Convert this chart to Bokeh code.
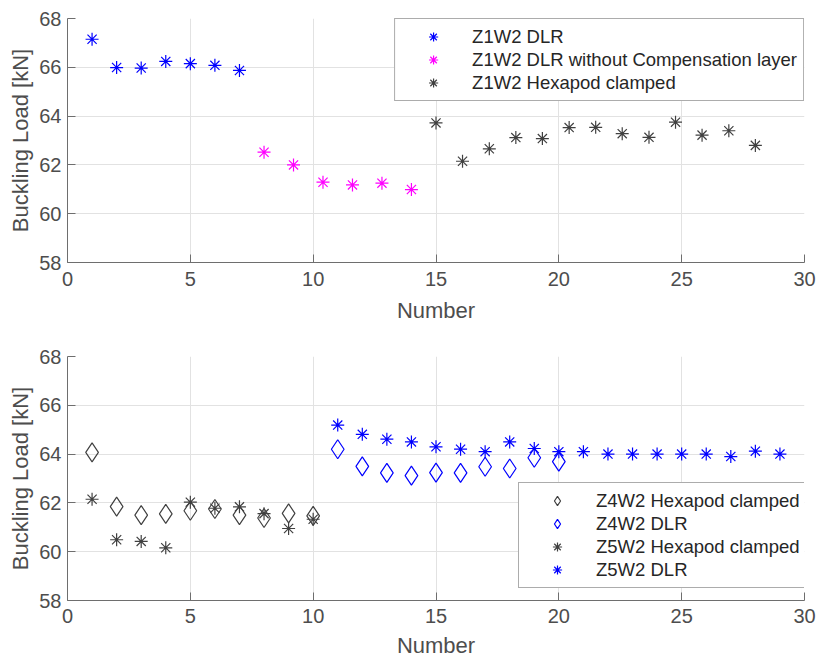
from bokeh.plotting import figure
from bokeh.layouts import column
from bokeh.models import FixedTicker, Legend, LegendItem
from bokeh.embed import file_html
from bokeh.resources import INLINE

# ---------------- data ----------------
x_ticks = [0, 5, 10, 15, 20, 25, 30]
y_ticks = [58, 60, 62, 64, 66, 68]

# top panel
z1_dlr_x = [1, 2, 3, 4, 5, 6, 7]
z1_dlr_y = [67.15, 65.99, 65.97, 66.24, 66.15, 66.08, 65.87]
z1_nocomp_x = [8, 9.2, 10.4, 11.6, 12.8, 14]
z1_nocomp_y = [62.52, 62.0, 61.29, 61.18, 61.25, 60.99]
z1_hexa_x = [15, 16.08, 17.17, 18.25, 19.33, 20.42, 21.5, 22.58, 23.67, 24.75, 25.83, 26.92, 28]
z1_hexa_y = [63.72, 62.15, 62.66, 63.12, 63.08, 63.53, 63.54, 63.28, 63.13, 63.75, 63.22, 63.4, 62.8]

# bottom panel
z4_hexa_x = [1, 2, 3, 4, 5, 6, 7, 8, 9, 10]
z4_hexa_y = [64.07, 61.85, 61.5, 61.55, 61.68, 61.75, 61.5, 61.38, 61.57, 61.47]
z4_dlr_x = [11, 12, 13, 14, 15, 16, 17, 18, 19, 20]
z4_dlr_y = [64.2, 63.5, 63.23, 63.12, 63.24, 63.23, 63.48, 63.41, 63.85, 63.69]
z5_hexa_x = [1, 2, 3, 4, 5, 6, 7, 8, 9, 10]
z5_hexa_y = [62.15, 60.49, 60.42, 60.16, 62.03, 61.78, 61.84, 61.56, 60.95, 61.33]
z5_dlr_x = [11, 12, 13, 14, 15, 16, 17, 18, 19, 20, 21, 22, 23, 24, 25, 26, 27, 28, 29]
z5_dlr_y = [65.19, 64.81, 64.61, 64.5, 64.3, 64.2, 64.1, 64.5, 64.23, 64.1, 64.1,
            64.0, 64.0, 64.0, 64.0, 64.0, 63.9, 64.12, 64.0]

FONT = "Liberation Sans"
BLUE = "#0000ff"
MAGENTA = "#ff00ff"
GRAY = "#404040"


def make_fig(top, bottom, tick_standoff, label_standoff):
    p = figure(width=818, height=330, x_range=(0, 30), y_range=(58, 68),
               output_backend="svg", toolbar_location=None,
               min_border_left=67, min_border_right=14,
               min_border_top=top, min_border_bottom=bottom)
    p.outline_line_color = None
    p.background_fill_color = "white"
    p.border_fill_color = "white"
    p.xaxis.ticker = FixedTicker(ticks=x_ticks)
    p.yaxis.ticker = FixedTicker(ticks=y_ticks)
    for ax in (p.xaxis[0], p.yaxis[0]):
        ax.major_tick_in = 8
        ax.major_tick_out = 0
        ax.minor_tick_in = 0
        ax.minor_tick_out = 0
        ax.axis_line_color = "#6e6e6e"
        ax.major_tick_line_color = "#6e6e6e"
        ax.major_label_text_font = FONT
        ax.major_label_text_font_size = "20px"
        ax.major_label_text_color = "#4d4d4d"
        ax.axis_label_text_font = FONT
        ax.axis_label_text_font_size = "22px"
        ax.axis_label_text_font_style = "normal"
        ax.axis_label_text_color = "#4d4d4d"
    p.xaxis.axis_label = "Number"
    p.yaxis.axis_label = "Buckling Load [kN]"
    p.xaxis.major_label_standoff = tick_standoff
    p.xaxis.axis_label_standoff = label_standoff
    p.yaxis.major_label_standoff = 6
    p.yaxis.axis_label_standoff = 3
    p.xgrid.ticker = FixedTicker(ticks=x_ticks)
    p.ygrid.ticker = FixedTicker(ticks=y_ticks)
    p.grid.grid_line_color = "#e2e2e2"
    p.grid.grid_line_width = 1
    return p


def style_legend(leg):
    leg.label_text_font = FONT
    leg.label_text_font_size = "18.5px"
    leg.label_text_color = "#262626"
    leg.border_line_color = "#5a5a5a"
    leg.border_line_width = 1
    leg.background_fill_color = "white"
    leg.background_fill_alpha = 1.0
    leg.padding = 6
    leg.spacing = 0
    leg.glyph_width = 64
    leg.glyph_height = 23
    leg.label_height = 23
    leg.label_standoff = 7
    leg.margin = 0


# ---------------- top ----------------
p1 = make_fig(18, 68, 9, 9)
r1 = p1.scatter(z1_dlr_x, z1_dlr_y, marker="asterisk", size=13, line_color=BLUE, line_width=1.2)
r2 = p1.scatter(z1_nocomp_x, z1_nocomp_y, marker="asterisk", size=13, line_color=MAGENTA, line_width=1.2)
r3 = p1.scatter(z1_hexa_x, z1_hexa_y, marker="asterisk", size=13, line_color=GRAY, line_width=1.2)
leg1 = Legend(items=[
    LegendItem(label="Z1W2 DLR", renderers=[r1]),
    LegendItem(label="Z1W2 DLR without Compensation layer", renderers=[r2]),
    LegendItem(label="Z1W2 Hexapod clamped", renderers=[r3]),
], location="top_right")
style_legend(leg1)
p1.add_layout(leg1)

# ---------------- bottom ----------------
p2 = make_fig(26, 60, 8, 7)
s1 = p2.scatter(z4_hexa_x, z4_hexa_y, marker="diamond", size=19, line_color=GRAY,
                fill_color=None, line_width=1.2)
s2 = p2.scatter(z4_dlr_x, z4_dlr_y, marker="diamond", size=19, line_color=BLUE,
                fill_color=None, line_width=1.2)
s3 = p2.scatter(z5_hexa_x, z5_hexa_y, marker="asterisk", size=13, line_color=GRAY, line_width=1.2)
s4 = p2.scatter(z5_dlr_x, z5_dlr_y, marker="asterisk", size=13, line_color=BLUE, line_width=1.2)
leg2 = Legend(items=[
    LegendItem(label="Z4W2 Hexapod clamped", renderers=[s1]),
    LegendItem(label="Z4W2 DLR", renderers=[s2]),
    LegendItem(label="Z5W2 Hexapod clamped", renderers=[s3]),
    LegendItem(label="Z5W2 DLR", renderers=[s4]),
], location=(451, 12))
style_legend(leg2)
p2.add_layout(leg2)

layout = column(p1, p2, spacing=0)
open("out.html", "w").write(file_html(layout, INLINE))
